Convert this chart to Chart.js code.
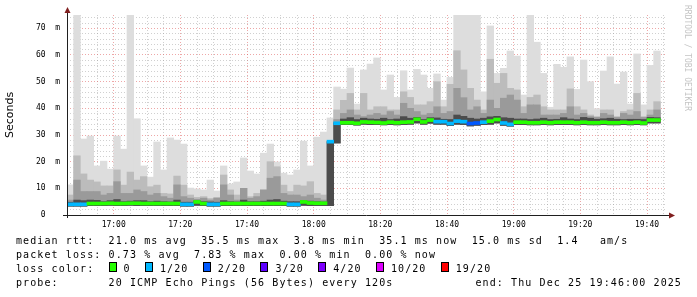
<!DOCTYPE html>
<html>
<head>
<meta charset="utf-8">
<script src="https://cdn.jsdelivr.net/npm/chart.js@4.4.1/dist/chart.umd.min.js"></script>
<style>
body { margin: 0; background: #fff; }
#wrap { position: relative; width: 697px; height: 297px; overflow: hidden; }
#chart { position: absolute; left: 0; top: 0; }
.txt { position: absolute; font-family: 'DejaVu Sans Mono', monospace; font-size: 10px; letter-spacing: 1.1px; white-space: pre; color: #000; line-height: 14px; }
.box { display: inline-block; width: 6px; height: 8px; border: 1px solid #000; margin-right: 7px; letter-spacing: 0; }
#credit { position: absolute; left: 683px; top: 5px; writing-mode: vertical-rl; font-family: 'DejaVu Sans Mono', monospace; font-size: 8px; line-height: 8px; color: #c4c4c4; white-space: pre; }
</style>
</head>
<body>
<div id="wrap">
  <canvas id="chart" width="697" height="297"></canvas>
  <div id="credit">RRDTOOL / TOBI OETIKER</div>
  <div class="txt" style="left:16px; top:234px">median rtt:  21.0 ms avg  35.5 ms max  3.8 ms min  35.1 ms now  15.0 ms sd  1.4   am/s</div>
  <div class="txt" style="left:16px; top:248px">packet loss: 0.73 % avg  7.83 % max  0.00 % min  0.00 % now</div>
  <div class="txt" id="lossline" style="left:16px; top:262px"></div>
  <div class="txt" style="left:16px; top:276px">probe:       20 ICMP Echo Pings (56 Bytes) every 120s</div>
  <div class="txt" style="right:15px; top:276px">end: Thu Dec 25 19:46:00 2025</div>
</div>
<script>
// time axis: minutes after 16:00, one sample every 2 minutes from 16:46
const startMin = 46;
const endMin = 226;
const slotMin = 2;
const majorTicks = [60, 80, 100, 120, 140, 160, 180, 200, 220];
const majorLabels = ['17:00', '17:20', '17:40', '18:00', '18:20', '18:40', '19:00', '19:20', '19:40'];
const yMax = 75;
const yLabelValues = [0, 10, 20, 30, 40, 50, 60, 70];
const yLabels = ['0   ', '10  m', '20  m', '30  m', '40  m', '50  m', '60  m', '70  m'];

// rtt in ms
const median = [
  4.0, 4.0, 4.0, 4.3, 4.3, 4.3, 4.4, 4.3, 4.3, 4.4,
  4.4, 4.3, 4.3, 4.3, 4.3, 4.3, 4.3, 4.0, 4.0, 4.9,
  4.3, 4.0, 4.0, 4.3, 4.3, 4.3, 4.3, 4.3, 4.3, 4.3,
  4.3, 4.3, 4.3, 4.0, 4.0, 4.9, 4.5, 4.4, 4.4, 27.5,
  34.4, 34.6, 34.6, 34.4, 34.9, 34.8, 34.7, 34.5, 34.8, 34.6,
  34.8, 34.9, 35.9, 34.9, 35.6, 35.0, 35.0, 34.3, 35.2, 35.0,
  34.3, 34.5, 34.8, 35.2, 35.8, 34.5, 34.0, 34.8, 34.8, 34.6,
  34.6, 34.8, 34.6, 34.8, 34.8, 34.8, 34.6, 34.8, 34.6, 34.6,
  34.8, 34.6, 34.6, 34.8, 34.6, 34.8, 34.5, 35.6, 35.6
];
// lost pings out of 20
const loss = [
  1, 1, 1, 0, 0, 0, 0, 0, 0, 0,
  0, 0, 0, 0, 0, 0, 0, 1, 1, 0,
  0, 1, 1, 0, 0, 0, 0, 0, 0, 0,
  0, 0, 0, 1, 1, 0, 0, 0, 0, 1,
  1, 0, 0, 0, 0, 0, 0, 0, 0, 0,
  0, 0, 0, 0, 0, 1, 1, 1, 1, 1,
  2, 2, 1, 0, 0, 1, 1, 0, 0, 0,
  0, 0, 0, 0, 0, 0, 0, 0, 0, 0,
  0, 0, 0, 0, 0, 0, 0, 0, 0
];
const pingMin = [
  3.3, 3.3, 3.3, 3.5, 3.5, 3.5, 3.6, 3.5, 3.5, 3.6,
  3.5, 3.5, 3.5, 3.5, 3.5, 3.5, 3.5, 3.3, 3.3, 3.6,
  3.5, 3.3, 3.3, 3.5, 3.5, 3.5, 3.5, 3.5, 3.5, 3.5,
  3.5, 3.5, 3.5, 3.3, 3.3, 3.6, 3.5, 3.5, 3.5, 3.5,
  27.0, 33.9, 33.9, 33.7, 34.0, 33.9, 33.9, 33.8, 33.9, 33.8,
  33.9, 34.0, 34.5, 34.0, 34.4, 34.0, 34.0, 33.5, 34.0, 33.9,
  33.4, 33.6, 33.9, 34.0, 34.5, 33.6, 33.3, 33.9, 33.9, 33.8,
  33.8, 33.9, 33.8, 33.9, 33.9, 33.9, 33.8, 33.9, 33.8, 33.8,
  33.9, 33.8, 33.8, 33.9, 33.8, 33.9, 33.8, 34.5, 34.5
];
const pingMax = [
  11.3, 75, 28.5, 29.6, 18.4, 20.2, 17.2, 29.6, 24.7, 75,
  36.1, 18.4, 14.2, 27.4, 16.9, 28.9, 28.1, 26.6, 10.1, 9.8,
  9.4, 13.1, 9.0, 18.4, 11.6, 12.4, 21.4, 16.5, 15.4, 23.2,
  26.6, 19.9, 15.7, 15.0, 16.9, 27.7, 18.4, 29.2, 31.1, 36.4,
  48.0, 47.2, 55.1, 41.6, 54.4, 56.6, 58.9, 46.9, 52.5, 44.1,
  54.1, 46.9, 54.6, 52.5, 47.5, 52.9, 43.1, 51.6, 75, 75,
  75, 75, 46.2, 70.9, 53.1, 55.0, 61.5, 59.6, 45.0, 75,
  64.8, 53.1, 40.4, 56.5, 55.4, 59.3, 47.1, 58.1, 50.0, 39.9,
  54.0, 59.3, 49.1, 53.6, 41.6, 60.4, 41.3, 56.1, 61.5
];
// inner smoke bands (upper edge), from outer to inner
const smoke2 = [
  7.5, 22.2, 15.4, 13.1, 12.4, 10.9, 10.9, 16.9, 11.2, 16.1,
  13.1, 14.4, 10.6, 11.2, 8.1, 7.9, 14.6, 11.2, 7.5, 6.6,
  6.9, 6.2, 6.6, 15.0, 9.4, 7.5, 10.0, 6.9, 8.1, 9.4,
  20.0, 18.1, 11.2, 8.8, 11.2, 10.9, 12.5, 8.1, 7.5, 27.5,
  39.4, 43.0, 45.6, 39.4, 45.6, 39.4, 40.6, 40.6, 39.4, 39.4,
  46.2, 44.1, 41.3, 41.3, 42.5, 50.0, 40.6, 49.0, 61.6, 54.4,
  47.5, 43.1, 39.4, 58.4, 49.4, 53.1, 47.5, 46.9, 40.6, 44.1,
  45.0, 40.6, 39.4, 39.4, 39.4, 47.3, 40.6, 39.4, 37.5, 36.9,
  39.4, 39.4, 36.9, 38.8, 39.4, 45.6, 36.9, 39.4, 42.5
];
const smoke3 = [
  5.6, 13.1, 8.8, 8.8, 8.8, 7.5, 8.1, 12.5, 8.1, 8.1,
  9.4, 8.8, 7.5, 8.1, 6.9, 6.3, 11.3, 6.9, 6.3, 5.9,
  6.3, 5.6, 6.3, 11.3, 7.5, 5.6, 10.0, 6.3, 6.9, 9.4,
  13.8, 14.4, 8.1, 7.5, 7.5, 6.9, 7.5, 6.3, 5.6, 27.5,
  35.8, 38.1, 39.4, 37.5, 36.9, 37.5, 38.1, 37.5, 38.8, 37.5,
  41.9, 40.0, 38.8, 37.5, 38.1, 40.6, 38.1, 38.8, 47.5, 44.0,
  39.4, 40.6, 38.1, 43.1, 40.0, 43.8, 45.0, 43.1, 38.1, 41.3,
  41.3, 37.5, 37.5, 37.5, 38.1, 40.6, 37.5, 38.1, 36.9, 36.6,
  38.1, 37.5, 36.6, 38.1, 37.5, 38.8, 36.6, 37.5, 39.4
];
const smoke4 = [
  4.8, 5.6, 5.4, 5.6, 5.5, 5.0, 5.4, 5.8, 5.0, 5.2,
  5.4, 5.4, 5.0, 5.2, 5.0, 4.9, 5.6, 4.8, 4.8, 5.3,
  5.0, 4.9, 4.8, 5.4, 5.0, 4.9, 5.6, 5.0, 5.0, 5.2,
  5.6, 5.8, 5.2, 5.0, 5.0, 5.3, 5.2, 5.0, 4.9, 27.5,
  34.6, 36.0, 36.5, 35.8, 36.3, 36.0, 35.9, 36.3, 35.8, 36.0,
  36.9, 36.3, 36.6, 35.8, 36.5, 36.4, 35.9, 35.8, 37.5, 37.0,
  36.3, 36.0, 36.3, 36.8, 37.0, 36.5, 36.3, 36.0, 36.0, 35.8,
  36.0, 36.3, 35.8, 35.9, 36.5, 36.0, 35.8, 36.6, 36.3, 35.9,
  36.1, 36.3, 35.9, 35.8, 35.9, 35.9, 35.8, 36.6, 36.5
];

const lossColors = { 0: '#26ff00', 1: '#00b8ff', 2: '#0059ff', 3: '#5e00ff', 4: '#7e00ff', 10: '#dd00ff', 19: '#ff0000' };
const lossNames = ['0', '1/20', '2/20', '3/20', '4/20', '10/20', '19/20'];
const lossKeys = [0, 1, 2, 3, 4, 10, 19];
const smokeColors = ['#dddddd', '#bcbcbc', '#9a9a9a', '#4c4c4c'];
const lineHalf = 0.56; // 3px median line
const minorGrid = 'rgba(150,150,150,0.45)';
const majorGrid = 'rgba(222,79,79,0.5)';

// legend line with colour boxes
let lossHtml = 'loss color:  ';
lossKeys.forEach((k, i) => {
    lossHtml += '<span class="box" style="background:' + lossColors[k] + '"></span>' + lossNames[i] + (i < lossKeys.length - 1 ? '  ' : '');
});
document.getElementById('lossline').innerHTML = lossHtml;

const slots = median.map((_, i) => startMin + slotMin * i + slotMin / 2);
function band(lo, hi) {
    return slots.map((x, i) => ({ x: x, y: [lo[i], hi[i]] }));
}
const barBase = { barPercentage: 1, categoryPercentage: 1, grouped: false, borderWidth: 0 };

const axesPlugin = {
    id: 'rrdAxes',
    afterDraw(chart) {
        const ctx = chart.ctx;
        const a = chart.chartArea;
        ctx.save();
        ctx.strokeStyle = '#1f1f1f';
        ctx.lineWidth = 1;
        ctx.beginPath();
        ctx.moveTo(a.left - 4, a.bottom + 0.5);
        ctx.lineTo(a.right + 3, a.bottom + 0.5);
        ctx.moveTo(a.left + 0.5, a.bottom + 3);
        ctx.lineTo(a.left + 0.5, a.top - 3);
        ctx.stroke();
        ctx.fillStyle = '#801f1f';
        ctx.beginPath();
        ctx.moveTo(a.left + 0.5 - 3, a.top - 2);
        ctx.lineTo(a.left + 0.5 + 3, a.top - 2);
        ctx.lineTo(a.left + 0.5, a.top - 8);
        ctx.closePath();
        ctx.fill();
        ctx.beginPath();
        ctx.moveTo(a.right + 2, a.bottom + 0.5 - 3);
        ctx.lineTo(a.right + 2, a.bottom + 0.5 + 3);
        ctx.lineTo(a.right + 8, a.bottom + 0.5);
        ctx.closePath();
        ctx.fill();
        ctx.restore();
    }
};

const monoFont = { family: "'DejaVu Sans Mono', monospace", size: 8 };

new Chart(document.getElementById('chart'), {
    type: 'bar',
    data: {
        datasets: [
            Object.assign({ data: band(pingMin, pingMax), backgroundColor: smokeColors[0], order: 5 }, barBase),
            Object.assign({ data: band(pingMin, smoke2), backgroundColor: smokeColors[1], order: 4 }, barBase),
            Object.assign({ data: band(pingMin, smoke3), backgroundColor: smokeColors[2], order: 3 }, barBase),
            Object.assign({ data: band(pingMin, smoke4), backgroundColor: smokeColors[3], order: 2 }, barBase),
            Object.assign({
                data: slots.map((x, i) => ({ x: x, y: [median[i] - lineHalf, median[i] + lineHalf] })),
                backgroundColor: ctx => lossColors[loss[ctx.dataIndex]],
                order: 1
            }, barBase)
        ]
    },
    options: {
        responsive: false,
        animation: false,
        devicePixelRatio: 1,
        layout: { padding: { left: 0, top: 15, right: 30, bottom: 62 } },
        plugins: { legend: { display: false }, tooltip: { enabled: false } },
        scales: {
            x: {
                type: 'linear',
                min: startMin,
                max: endMin,
                offset: false,
                z: 1,
                afterBuildTicks: s => {
                    s.ticks = [];
                    for (let v = 50; v < endMin; v += 5) s.ticks.push({ value: v });
                },
                afterFit: s => { s.height = 20; },
                grid: {
                    offset: false,
                    drawTicks: false,
                    color: ctx => majorTicks.includes(ctx.tick.value) ? majorGrid : minorGrid
                },
                border: { display: false, dash: [1, 2] },
                ticks: {
                    autoSkip: false,
                    maxRotation: 0,
                    padding: 5,
                    color: '#000',
                    font: monoFont,
                    callback: v => {
                        const k = majorTicks.indexOf(v);
                        return k >= 0 ? majorLabels[k] : '';
                    }
                }
            },
            y: {
                min: 0,
                max: yMax,
                z: 1,
                afterBuildTicks: s => {
                    s.ticks = [];
                    for (let v = 0; v < yMax; v += 2) s.ticks.push({ value: v });
                },
                afterFit: s => { s.width = 67; },
                grid: {
                    drawTicks: false,
                    color: ctx => ctx.tick.value % 10 === 0 ? majorGrid : minorGrid
                },
                border: { display: false, dash: [1, 2] },
                title: {
                    display: true,
                    text: 'Seconds',
                    color: '#000',
                    font: { family: "'DejaVu Sans', sans-serif", size: 11 }
                },
                ticks: {
                    autoSkip: false,
                    padding: 7,
                    color: '#000',
                    font: monoFont,
                    callback: v => {
                        const k = yLabelValues.indexOf(v);
                        return k >= 0 ? yLabels[k] : '';
                    }
                }
            }
        }
    },
    plugins: [axesPlugin]
});
</script>
</body>
</html>
